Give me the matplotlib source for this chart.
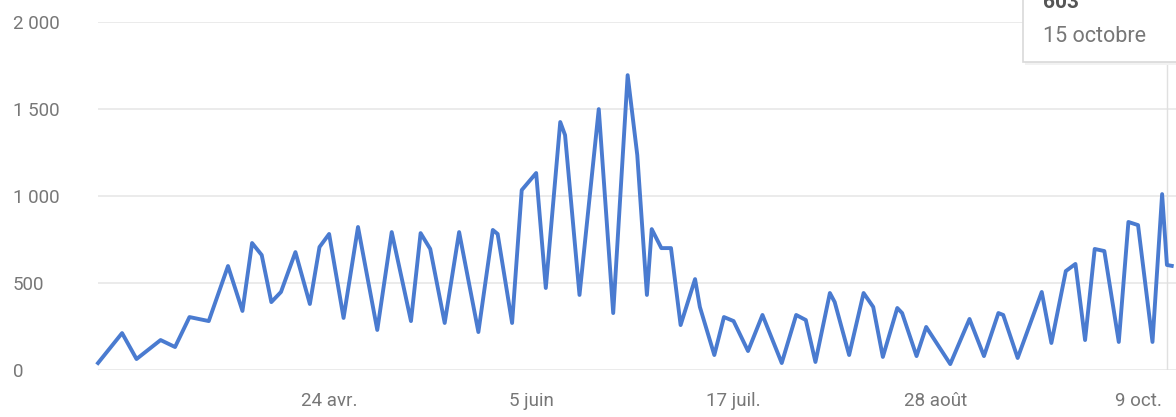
import matplotlib
matplotlib.use("Agg")
import matplotlib.pyplot as plt
import pandas as pd
from matplotlib.patches import Rectangle

# ---- data ----
dates = ["2022-03-07", "2022-03-12", "2022-03-15", "2022-03-20", "2022-03-23", "2022-03-26",
         "2022-03-30", "2022-04-03", "2022-04-06", "2022-04-08", "2022-04-10", "2022-04-12",
         "2022-04-14", "2022-04-17", "2022-04-20", "2022-04-22", "2022-04-24", "2022-04-27",
         "2022-04-30", "2022-05-04", "2022-05-07", "2022-05-11", "2022-05-13", "2022-05-15",
         "2022-05-18", "2022-05-21", "2022-05-25", "2022-05-28", "2022-05-29", "2022-06-01",
         "2022-06-03", "2022-06-06", "2022-06-08", "2022-06-11", "2022-06-12", "2022-06-15",
         "2022-06-19", "2022-06-22", "2022-06-25", "2022-06-27", "2022-06-29", "2022-06-30",
         "2022-07-02", "2022-07-04", "2022-07-06", "2022-07-09", "2022-07-10", "2022-07-13",
         "2022-07-15", "2022-07-17", "2022-07-20", "2022-07-23", "2022-07-27", "2022-07-30",
         "2022-08-01", "2022-08-03", "2022-08-06", "2022-08-07", "2022-08-10", "2022-08-13",
         "2022-08-15", "2022-08-17", "2022-08-20", "2022-08-21", "2022-08-24", "2022-08-26",
         "2022-08-31", "2022-09-04", "2022-09-07", "2022-09-10", "2022-09-11", "2022-09-14",
         "2022-09-19", "2022-09-21", "2022-09-24", "2022-09-26", "2022-09-28", "2022-09-30",
         "2022-10-02", "2022-10-05", "2022-10-07", "2022-10-09", "2022-10-12", "2022-10-14",
         "2022-10-15", "2022-10-16"]
values = [40, 212, 63, 172, 132, 304,
          281, 597, 339, 729, 660, 390,
          448, 677, 379, 706, 781, 299,
          821, 230, 792, 281, 786, 695,
          270, 792, 218, 804, 781, 270,
          1033, 1131, 471, 1424, 1349, 431,
          1498, 327, 1693, 1234, 431, 809,
          700, 700, 258, 522, 362, 86,
          304, 281, 109, 316, 40, 316,
          287, 46, 442, 390, 86, 442,
          362, 75, 356, 327, 80, 247,
          34, 293, 80, 327, 316, 69,
          448, 155, 568, 609, 172, 695,
          683, 161, 850, 832, 161, 1010,
          603, 598]

tick_dates = ["2022-04-24", "2022-06-05", "2022-07-17", "2022-08-28", "2022-10-09"]
tick_labels = ["24 avr.", "5 juin", "17 juil.", "28 août", "9 oct."]
y_ticks = [0, 500, 1000, 1500, 2000]
y_labels = ["0", "500", "1 000", "1 500", "2 000"]

hover_date = "2022-10-15"
hover_value_text = "603"
hover_date_text = "15 octobre"

# ---- figure ----
plt.rcParams['font.family'] = ['Roboto', 'DejaVu Sans']
W, H = 1176, 417
fig = plt.figure(figsize=(W / 100, H / 100), dpi=100)
fig.patch.set_facecolor("white")

left_px, right_px, top_px, bottom_px = 98, 1176, 21.7, 370
ax = fig.add_axes([left_px / W, (H - bottom_px) / H,
                   (right_px - left_px) / W, (bottom_px - top_px) / H])

x = pd.to_datetime(dates)
start = pd.Timestamp(dates[0])
days_span = (right_px - left_px) / 4.815
ax.set_xlim(start, start + pd.Timedelta(days=days_span))
ax.set_ylim(0, 2000)

# gridlines
for yv in y_ticks:
    ax.axhline(yv, color="#ebebeb", lw=1.4, zorder=0)

# hover line
hd = pd.Timestamp(hover_date)
ax.axvline(hd, color="#e0e0e0", lw=1.0, zorder=1)

ax.plot(x, values, color="#4a7bd0", lw=2.8, solid_joinstyle="round", zorder=3, clip_on=False)

for s in ax.spines.values():
    s.set_visible(False)

ax.set_xticks(pd.to_datetime(tick_dates))
ax.set_xticklabels(tick_labels)
ax.set_yticks(y_ticks)
ax.set_yticklabels(y_labels)
ax.tick_params(axis="x", length=0, pad=16, labelsize=13.5, labelcolor="#777777")
ax.tick_params(axis="y", length=0, pad=(left_px - 13) * 0.72, labelsize=13.5, labelcolor="#777777")
for lab in ax.get_yticklabels():
    lab.set_horizontalalignment("left")
ax.set_facecolor("none")

# tooltip box
tx0, ty1 = 1023, 62
shadow = Rectangle((tx0 + 2, H - ty1 - 3), W - tx0 + 10, ty1 + 10,
                   transform=None, facecolor="#f2f2f2", edgecolor="none", zorder=9)
box = Rectangle((tx0, H - ty1), W - tx0 + 10, ty1 + 10,
                transform=None, facecolor="white", edgecolor="#d9d9d9", lw=1.2, zorder=10)
fig.patches.extend([shadow, box])
fig.text(1043 / W, (H - 8) / H, hover_value_text, fontsize=15, fontweight="bold",
         color="#555555", ha="left", va="baseline", zorder=11)
fig.text(1043 / W, (H - 36) / H, hover_date_text, fontsize=15.5, color="#777777",
         ha="left", va="center", zorder=11)

fig.savefig("out.png", dpi=100, facecolor="white")
